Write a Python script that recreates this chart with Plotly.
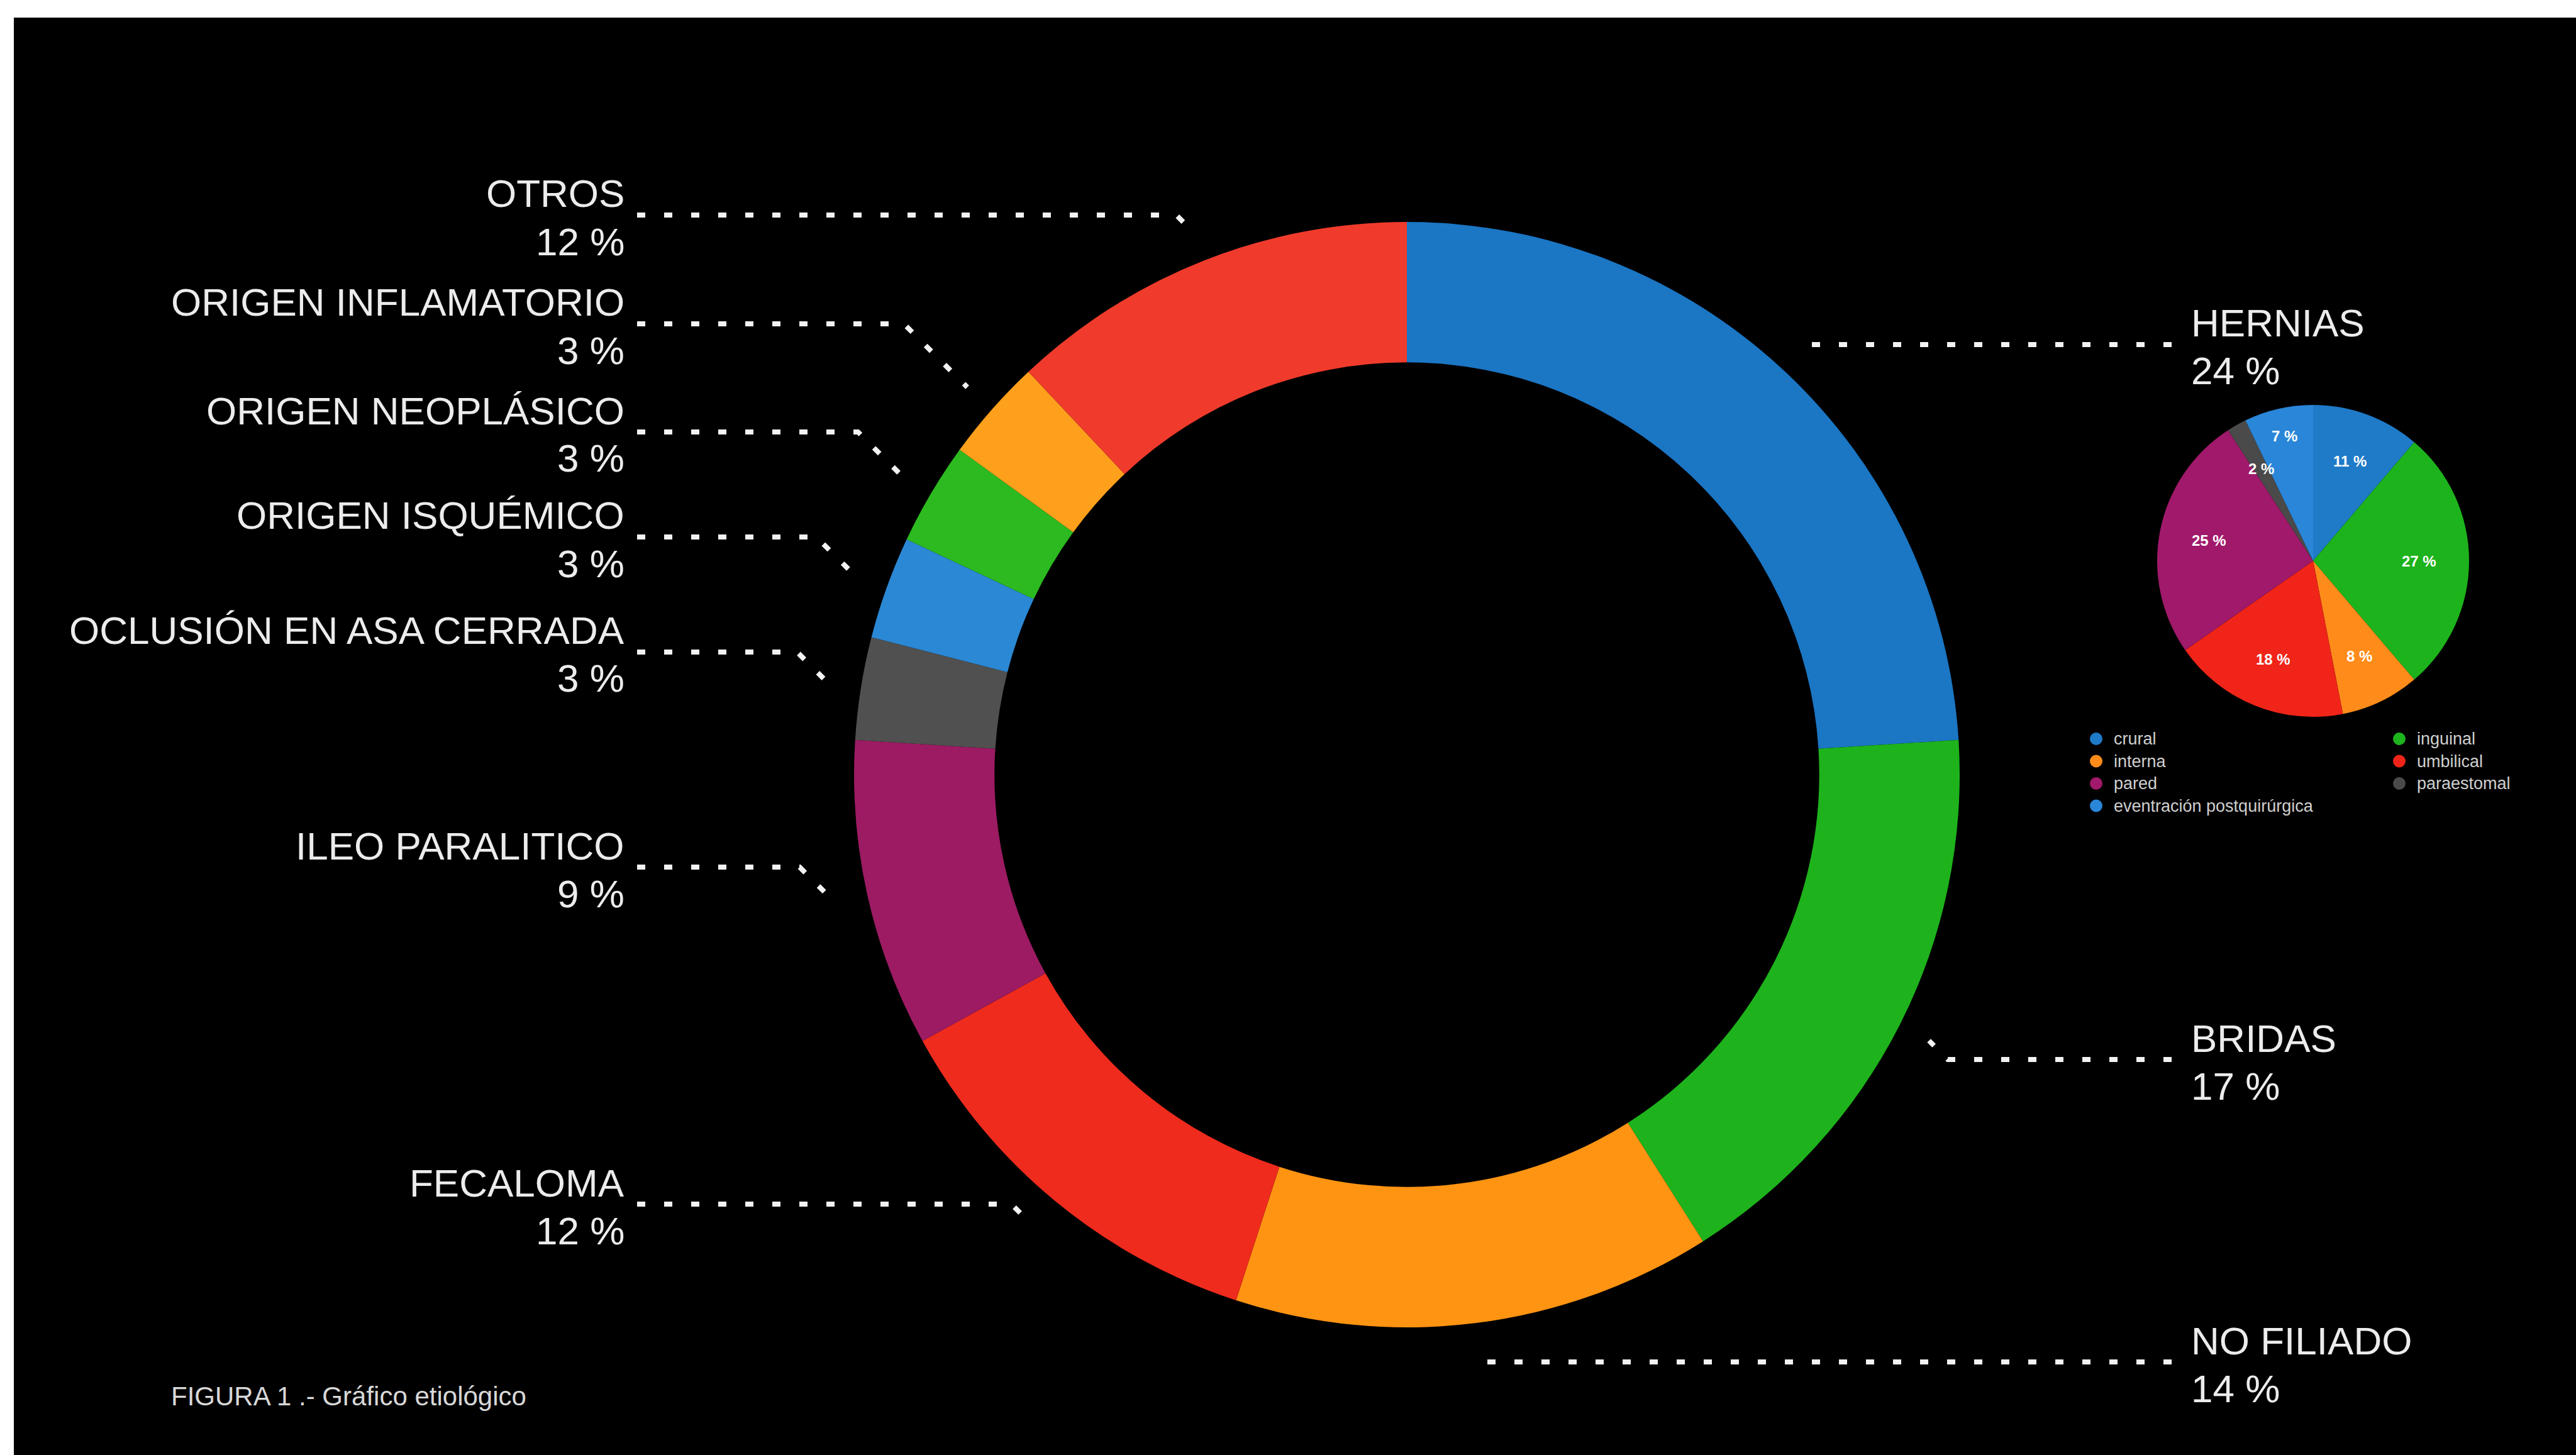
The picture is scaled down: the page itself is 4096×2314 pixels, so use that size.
import math
import plotly.graph_objects as go

W, H = 4096, 2314

# ---------------- data ----------------
causes = ["HERNIAS", "BRIDAS", "NO FILIADO", "FECALOMA", "ILEO PARALITICO",
          "OCLUSIÓN EN ASA CERRADA", "ORIGEN ISQUÉMICO", "ORIGEN NEOPLÁSICO",
          "ORIGEN INFLAMATORIO", "OTROS"]
cause_pct = [24, 17, 14, 12, 9, 3, 3, 3, 3, 12]
cause_colors = ["#1b76c4", "#1eb31c", "#ff9412", "#ef2b1d", "#9c1b63",
                "#505050", "#2b88d4", "#2cba20", "#ffa01c", "#f03b2c"]

hernia_types = ["crural", "inguinal", "interna", "umbilical", "pared",
                "paraestomal", "eventración postquirúrgica"]
hernia_pct = [11, 27, 8, 18, 25, 2, 7]
hernia_colors = ["#1f7ac8", "#1db31c", "#ff8c1a", "#f02418", "#a0196a",
                 "#4a4a4a", "#2a86d8"]

# label layout (pixel y of the leader line for each cause)
leader_y = [548, 1685, 2166, 1915, 1379, 1037, 854, 687, 515, 342]

# ---------------- geometry ----------------
CX, CY, R = 2237, 1232, 879        # main donut
HOLE = 0.746
SX, SY, SR = 3678, 892, 248        # hernia pie
LEFT_TEXT_X, LEFT_LEAD_X = 995, 1013
RIGHT_TEXT_X, RIGHT_LEAD_X = 3482, 3453
TXT = "#ececec"
FONT = "Liberation Sans, Arial, Helvetica, sans-serif"


def px(x):
    return x / W


def py(y):
    return 1 - y / H


fig = go.Figure()

fig.add_trace(go.Pie(
    labels=causes, values=cause_pct, hole=HOLE, sort=False,
    direction="clockwise", rotation=0, textinfo="none",
    marker=dict(colors=cause_colors, line=dict(width=0)),
    domain=dict(x=[px(CX - R), px(CX + R)], y=[py(CY + R), py(CY - R)]),
    showlegend=False, name="etiología"))

fig.add_trace(go.Pie(
    labels=hernia_types, values=hernia_pct, sort=False,
    direction="clockwise", rotation=0, textinfo="none",
    marker=dict(colors=hernia_colors, line=dict(width=0)),
    domain=dict(x=[px(SX - SR), px(SX + SR)], y=[py(SY + SR), py(SY - SR)]),
    showlegend=False, name="hernias"))

shapes = []
annotations = []

# background: white frame + black panel
shapes.append(dict(type="rect", xref="paper", yref="paper", layer="below",
                   x0=px(22), x1=1, y0=0, y1=py(28),
                   fillcolor="black", line=dict(width=0)))

# labels and leader lines for the donut
total = sum(cause_pct)
cum = 0
for name, v, ly in zip(causes, cause_pct, leader_y):
    mid = (cum + v / 2) / total * 360
    cum += v
    a = math.radians(mid)
    ex = CX + 1.06 * R * math.sin(a)
    ey = CY - 1.06 * R * math.cos(a)
    right = mid < 180
    if right:
        elbow = ex + abs(ey - ly)
        pts = [(RIGHT_LEAD_X, ly), (elbow, ly), (ex, ey)]
        tx, xa = RIGHT_TEXT_X, "left"
    else:
        elbow = ex - abs(ey - ly)
        pts = [(LEFT_LEAD_X, ly), (elbow, ly), (ex, ey)]
        tx, xa = LEFT_TEXT_X, "right"
    path = "M " + " L ".join(f"{px(x):.5f},{py(y):.5f}" for x, y in pts)
    shapes.append(dict(type="path", xref="paper", yref="paper", path=path,
                       line=dict(color="#f2f2f2", width=8, dash="13px,30px")))
    annotations.append(dict(x=px(tx), y=py(ly - 34), xref="paper", yref="paper",
                            text=name, showarrow=False, xanchor=xa, yanchor="middle",
                            font=dict(family=FONT, size=62, color=TXT)))
    annotations.append(dict(x=px(tx), y=py(ly + 42), xref="paper", yref="paper",
                            text=f"{v} %", showarrow=False, xanchor=xa, yanchor="middle",
                            font=dict(family=FONT, size=62, color=TXT)))

# percentage texts inside the hernia pie
htotal = sum(hernia_pct)
cum = 0
for v in hernia_pct:
    mid = (cum + v / 2) / htotal * 360
    cum += v
    a = math.radians(mid)
    rf = 0.68 if v != 7 else 0.82
    x = SX + rf * SR * math.sin(a)
    y = SY - rf * SR * math.cos(a)
    annotations.append(dict(x=px(x), y=py(y), xref="paper", yref="paper",
                            text=f"{v} %", showarrow=False, xanchor="center", yanchor="middle",
                            font=dict(family=FONT, size=24, color="white", weight="bold")))

# legend of the hernia pie (2 columns, row-major)
col_x = [3333, 3815]
row_y0, row_dy = 1175, 35.5
for i, (t, c) in enumerate(zip(hernia_types, hernia_colors)):
    mx = col_x[i % 2]
    my = row_y0 + (i // 2) * row_dy
    rr = 10
    shapes.append(dict(type="circle", xref="paper", yref="paper",
                       x0=px(mx - rr), x1=px(mx + rr), y0=py(my + rr), y1=py(my - rr),
                       fillcolor=c, line=dict(width=0)))
    annotations.append(dict(x=px(mx + 26), y=py(my), xref="paper", yref="paper",
                            text=t, showarrow=False, xanchor="left", yanchor="middle",
                            font=dict(family=FONT, size=27, color="#cfcfcf")))

# footer
annotations.append(dict(x=px(270), y=py(2220), xref="paper", yref="paper",
                        text="FIGURA 1 .- Gráfico etiológico", showarrow=False,
                        xanchor="left", yanchor="middle",
                        font=dict(family=FONT, size=42, color="#d8d8d8")))

fig.update_layout(
    width=W, height=H, autosize=False,
    margin=dict(l=0, r=0, t=0, b=0),
    paper_bgcolor="white", plot_bgcolor="black",
    shapes=shapes, annotations=annotations,
    showlegend=False,
)

fig.write_html(
    "out.html",
    config={"displayModeBar": False},
    post_script="document.body.style.margin='0';document.body.style.overflow='hidden';"
                "document.documentElement.style.overflow='hidden';",
)
